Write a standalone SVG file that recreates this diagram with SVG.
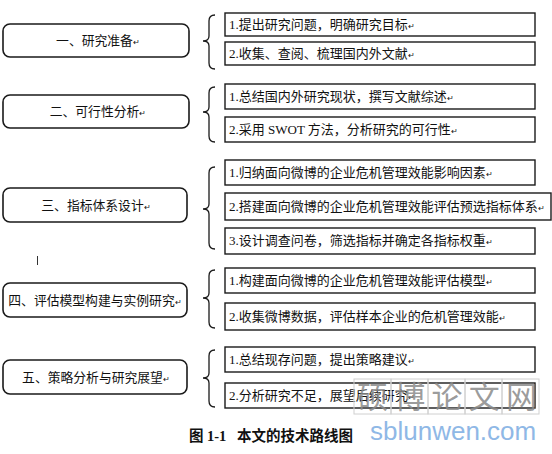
<svg xmlns="http://www.w3.org/2000/svg" width="552" height="454" viewBox="0 0 552 454">
<style>
.bg{fill:#ffffff}
.lbox{fill:#fff;stroke:#1a1a1a;stroke-width:1.6}
.rbox{fill:#fff;stroke:#1a1a1a;stroke-width:1.4}
.brace{fill:none;stroke:#1a1a1a;stroke-width:1.3}
.t{font-family:"Liberation Serif","Noto Sans CJK SC",serif;font-size:13px;fill:#111}
.lt{text-anchor:middle;font-size:12.8px}
.pm{font-size:8px}
.cap{font-family:"Liberation Serif","Noto Sans CJK SC",serif;font-size:14.5px;font-weight:bold;fill:#111}
.wm{font-family:"Noto Sans CJK SC",sans-serif;font-size:31px;fill:#8a8a8a;fill-opacity:0.85}
.wmg{fill:none;stroke:#d0d0d0;stroke-width:1}
.wmu{font-family:"Liberation Sans",sans-serif;font-size:26px;fill:#8fb8e6}
</style>
<rect class="bg" x="0" y="0" width="552" height="454"/>

<g id="stage1">
<rect class="lbox" x="3" y="24" width="186" height="33" rx="7"/>
<text class="t lt" x="98" y="45">一、研究准备<tspan class="pm">↵</tspan></text>
</g>
<g id="stage2">
<rect class="lbox" x="3" y="95" width="186" height="33" rx="7"/>
<text class="t lt" x="98" y="116">二、可行性分析<tspan class="pm">↵</tspan></text>
</g>
<g id="stage3">
<rect class="lbox" x="3" y="188" width="184" height="34" rx="7"/>
<text class="t lt" x="96" y="210">三、指标体系设计<tspan class="pm">↵</tspan></text>
</g>
<g id="stage4">
<rect class="lbox" x="3" y="283" width="184" height="34" rx="7"/>
<text class="t lt" x="95" y="305">四、评估模型构建与实例研究<tspan class="pm">↵</tspan></text>
</g>
<g id="stage5">
<rect class="lbox" x="3" y="360" width="184" height="34" rx="7"/>
<text class="t lt" x="96" y="382">五、策略分析与研究展望<tspan class="pm">↵</tspan></text>
</g>

<g id="connectors">
<path class="brace" d="M215 15 Q209 15 209 21 L209 36 Q209 41 203 41 Q209 41 209 46 L209 63 Q209 69 215 69"/>
<path class="brace" d="M215 87 Q209 87 209 93 L209 107 Q209 112 203 112 Q209 112 209 117 L209 136 Q209 142 215 142"/>
<path class="brace" d="M215 167 Q209 167 209 173 L209 204 Q209 209 203 209 Q209 209 209 214 L209 243 Q209 249 215 249"/>
<path class="brace" d="M215 270 Q209 270 209 276 L209 293 Q209 298 203 298 Q209 298 209 303 L209 322 Q209 328 215 328"/>
<path class="brace" d="M215 350 Q209 350 209 356 L209 373 Q209 378 203 378 Q209 378 209 383 L209 401 Q209 407 215 407"/>
</g>

<g id="task1-1">
<rect class="rbox" x="225" y="13" width="310" height="23"/>
<text class="t" x="229" y="29">1.提出研究问题，明确研究目标<tspan class="pm">↵</tspan></text>
</g>
<g id="task1-2">
<rect class="rbox" x="225" y="42" width="310" height="23"/>
<text class="t" x="229" y="58">2.收集、查阅、梳理国内外文献<tspan class="pm">↵</tspan></text>
</g>
<g id="task2-1">
<rect class="rbox" x="225" y="84" width="310" height="25"/>
<text class="t" x="229" y="101">1.总结国内外研究现状，撰写文献综述<tspan class="pm">↵</tspan></text>
</g>
<g id="task2-2">
<rect class="rbox" x="225" y="117" width="310" height="25"/>
<text class="t" x="229" y="134">2.采用 SWOT 方法，分析研究的可行性<tspan class="pm">↵</tspan></text>
</g>
<g id="task3-1">
<rect class="rbox" x="225" y="160" width="310" height="25"/>
<text class="t" x="229" y="177">1.归纳面向微博的企业危机管理效能影响因素<tspan class="pm">↵</tspan></text>
</g>
<g id="task3-2">
<rect class="rbox" x="225" y="193" width="326" height="27"/>
<text class="t" x="229" y="211">2.搭建面向微博的企业危机管理效能评估预选指标体系<tspan class="pm">↵</tspan></text>
</g>
<g id="task3-3">
<rect class="rbox" x="225" y="228" width="310" height="26"/>
<text class="t" x="229" y="245">3.设计调查问卷，筛选指标并确定各指标权重<tspan class="pm">↵</tspan></text>
</g>
<g id="task4-1">
<rect class="rbox" x="225" y="268" width="310" height="25"/>
<text class="t" x="229" y="285">1.构建面向微博的企业危机管理效能评估模型<tspan class="pm">↵</tspan></text>
</g>
<g id="task4-2">
<rect class="rbox" x="225" y="303" width="310" height="27"/>
<text class="t" x="229" y="321">2.收集微博数据，评估样本企业的危机管理效能<tspan class="pm">↵</tspan></text>
</g>
<g id="task5-1">
<rect class="rbox" x="225" y="347" width="310" height="25"/>
<text class="t" x="229" y="364">1.总结现存问题，提出策略建议<tspan class="pm">↵</tspan></text>
</g>
<g id="task5-2">
<rect class="rbox" x="225" y="383" width="310" height="25"/>
<text class="t" x="229" y="400">2.分析研究不足，展望后续研究<tspan class="pm">↵</tspan></text>
</g>

<line x1="37.5" y1="256" x2="37.5" y2="265" stroke="#333" stroke-width="1"/>

<g id="caption">
<text class="cap" y="441"><tspan x="189">图</tspan><tspan x="207">1-1</tspan><tspan x="237">本文的技术路线图</tspan></text>
</g>

<g id="watermark">
<rect class="wmg" x="354" y="379" width="37" height="35"/>
<rect class="wmg" x="391" y="379" width="37" height="35"/>
<rect class="wmg" x="428" y="379" width="37" height="35"/>
<rect class="wmg" x="465" y="379" width="37" height="35"/>
<rect class="wmg" x="502" y="379" width="37" height="35"/>
<text class="wm" x="357" y="408" textLength="180">硕博论文网</text>
<text class="wmu" x="370" y="440">sblunwen.com</text>
</g>
</svg>
